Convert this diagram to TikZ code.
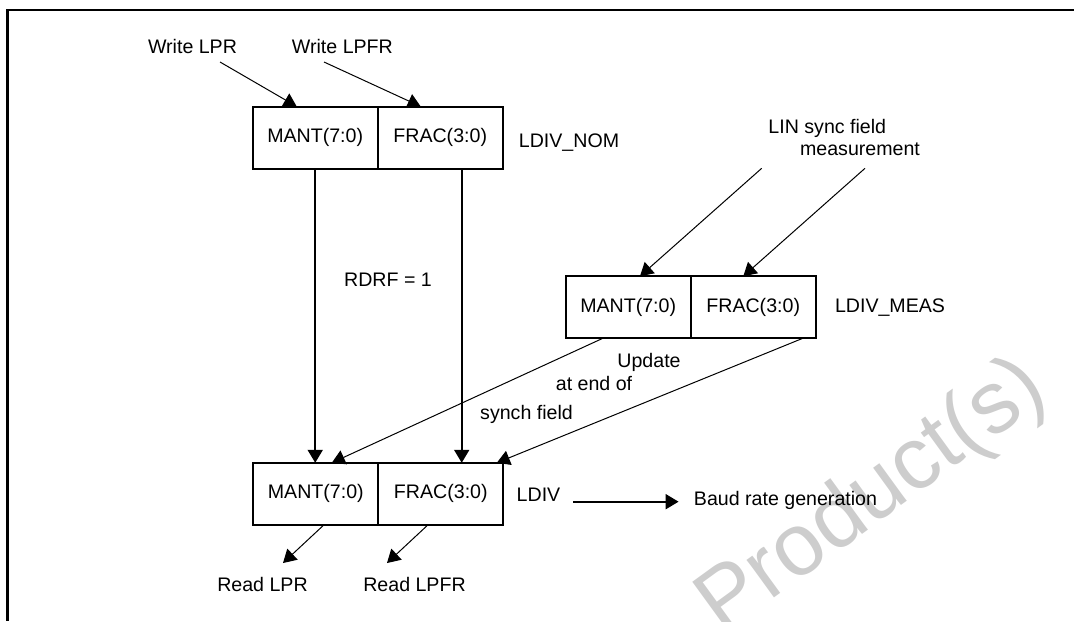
\documentclass[tikz,border=0pt]{standalone}
\usepackage{fontspec}
\setmainfont{Liberation Sans}
\definecolor{markgray}{RGB}{205, 205, 205}
\usepackage{tikz}
\usepackage{xcolor}
\usetikzlibrary{arrows.meta, positioning}

\begin{document}
\begin{tikzpicture}[x=0.5pt, y=-0.5pt,
                    font=\fontsize{9.8pt}{11pt}\selectfont,
                    cell/.style={draw, line width=1pt, minimum width=62.5pt, minimum height=31pt, inner sep=0pt, outer sep=0pt},
                    lbl/.style={inner sep=1pt, anchor=base},
                    feed/.style={-{Triangle[length=6.5pt, width=7.5pt]}, line width=0.5pt},
                    load/.style={-{Triangle[length=6.5pt, width=7.5pt]}, line width=1pt}]
                    \useasboundingbox (0,0) rectangle (1074,621);
                    \clip (0,0) rectangle (1074,621);
                    
                    % Watermark
                    \node[font=\fontsize{44pt}{44pt}\selectfont, text=markgray, rotate=36, anchor=base west, inner sep=0pt] (mark) at (722,636) {Product(s)};
                    
                    % Frame
                    \draw[line width=1.2pt] (1074,10) -- (7.5,10) -- (7.5,621);
                    
                    % Registers
                    \node[cell] (nomM) at (315.2,137.5) {MANT(7:0)};
                    \node[cell, right=0pt of nomM] (nomF) {FRAC(3:0)};
                    \node[cell] (measM) at (628.2,307.2) {MANT(7:0)};
                    \node[cell, right=0pt of measM] (measF) {FRAC(3:0)};
                    \node[cell] (botM) at (315.8,493.8) {MANT(7:0)};
                    \node[cell, right=0pt of botM] (botF) {FRAC(3:0)};
                    
                    % Labels
                    \node[lbl] (wlpr) at (192.5,53.3) {Write LPR};
                    \node[lbl] (wlpfr) at (342.4,53.3) {Write LPFR};
                    \node[lbl] (nomlbl) at (569,147.5) {LDIV\_NOM};
                    \node[lbl] (linA) at (827.3,133.3) {LIN sync field};
                    \node[lbl] (linB) at (860,155) {measurement};
                    \node[lbl] (measlbl) at (890,312.7) {LDIV\_MEAS};
                    \node[lbl] (rdrf) at (388,286) {RDRF = 1};
                    \node[lbl] (updA) at (649,367.5) {Update};
                    \node[lbl] (updB) at (594,390.7) {at end of};
                    \node[lbl] (updC) at (526.5,419) {synch field};
                    \node[lbl] (ldiv) at (538.5,501.7) {LDIV};
                    \node[lbl] (baud) at (785.5,505.7) {Baud rate generation};
                    \node[lbl] (rlpr) at (262.5,591) {Read LPR};
                    \node[lbl] (rlpfr) at (414.5,591) {Read LPFR};
                    
                    % Writes
                    \coordinate (wlprtail) at (220,62);
                    \coordinate (wlpfrtail) at (324,62);
                    \draw[feed] (wlprtail) -- ([xshift=-9.25pt]nomM.north);
                    \draw[feed] (wlpfrtail) -- ([xshift=-9.75pt]nomF.north);
                    
                    % LIN measurement
                    \coordinate (lintailA) at (761.7,168.3);
                    \coordinate (lintailB) at (865,168.3);
                    \draw[feed] (lintailA) -- ([xshift=5.9pt]measM.north);
                    \draw[feed] (lintailB) -- ([xshift=-4.95pt]measF.north);
                    
                    % Nominal to LDIV
                    \draw[load] (nomM.south) -- (nomM.south |- botM.north);
                    \draw[load] ([xshift=10.75pt]nomF.south) -- ([xshift=10.75pt]nomF.south |- botF.north);
                    
                    % Measured to LDIV
                    \draw[feed] ([xshift=-12.6pt]measM.south) -- ([xshift=8pt]botM.north);
                    \draw[feed] ([xshift=24.9pt]measF.south) -- ([xshift=28pt]botF.north);
                    
                    % Baud rate
                    \draw[load, shorten <=5.35pt, shorten >=6.5pt] (ldiv.base east) -- (ldiv.base east -| baud.west);
                    
                    % Reads
                    \coordinate (rlprhead) at (283,563);
                    \coordinate (rlpfrhead) at (387,563);
                    \draw[feed] ([xshift=4.1pt]botM.south) -- (rlprhead);
                    \draw[feed] ([xshift=-6.4pt]botF.south) -- (rlpfrhead);
                \end{tikzpicture}
\end{document}
